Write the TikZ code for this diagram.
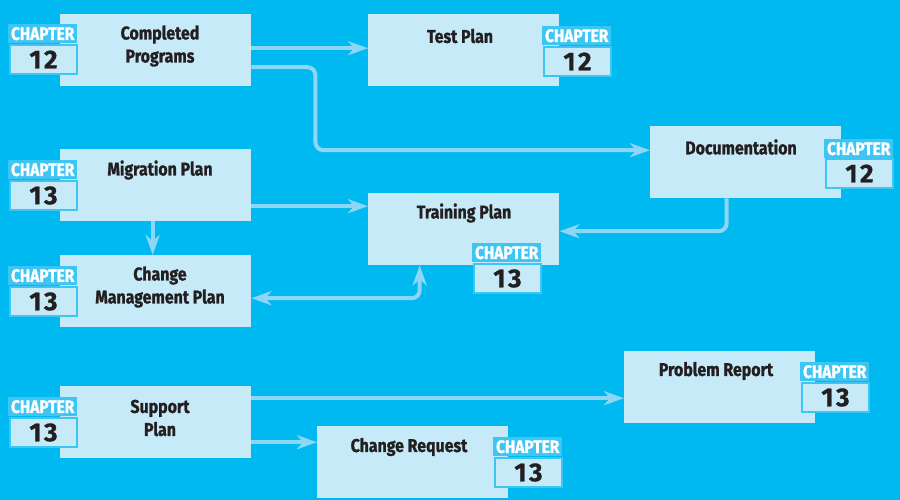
\documentclass[tikz,border=0pt]{standalone}
\usepackage{fontspec}
\setmainfont{Fira Sans}[FakeStretch=0.85]
\newfontfamily\titlefont{Fira Sans}[FakeStretch=0.86, FakeBold=1.2]
\newfontfamily\numfont{Fira Sans}[LetterSpace=10, FakeBold=0.8]
\usetikzlibrary{arrows.meta}
\definecolor{bg}{HTML}{00B9F1}
\definecolor{boxfill}{HTML}{C7EAF9}
\definecolor{hdr}{HTML}{3DC6F3}
\definecolor{arr}{HTML}{8DD6F6}
\definecolor{ink}{HTML}{231F20}
\begin{document}
\begin{tikzpicture}[x=1pt,y=-1pt,
  box/.style={fill=boxfill, anchor=north west, inner sep=0pt, minimum width=191pt, minimum height=72pt},
  ttl/.style={font=\titlefont\bfseries\fontsize{18.5}{23}\selectfont, text=ink, align=center, inner sep=0pt},
  chap/.style={fill=hdr, anchor=north west, inner sep=0pt, minimum width=69pt, minimum height=19pt, text=white, font=\titlefont\bfseries\fontsize{18}{18}\selectfont},
  num/.style={fill=boxfill, draw=hdr, line width=2pt, anchor=north west, inner sep=0pt, minimum width=67pt, minimum height=29pt, text=ink, font=\numfont\bfseries\fontsize{26}{28}\selectfont},
  arrow/.style={draw=arr, line width=4pt, -{Stealth[length=20pt,width=14pt,inset=6pt]}},
  darrow/.style={draw=arr, line width=4pt, {Stealth[length=20pt,width=14pt,inset=6pt]}-{Stealth[length=20pt,width=14pt,inset=6pt]}}
]
\useasboundingbox[fill=bg] (0,0) rectangle (900,500);

% boxes
\node[box] (cp) at (60,14) {};
\node[box] (tp) at (368,14) {};
\node[box] (doc) at (650,126) {};
\node[box] (mig) at (60,149) {};
\node[box] (train) at (368,193) {};
\node[box] (cmp) at (60,255) {};
\node[box] (sup) at (60,386) {};
\node[box] (cr) at (317,426) {};
\node[box] (pr) at (624,351) {};

% titles
\node[ttl] (cpT) at (160,46) {Completed\\Programs};
\node[ttl] (tpT) at (460,36) {Test Plan};
\node[ttl] (docT) at (741,147) {Documentation};
\node[ttl] (migT) at (160,170) {Migration Plan};
\node[ttl] (trainT) at (464,213) {Training Plan};
\node[ttl] (cmpT) at (160,287) {Change\\Management Plan};
\node[ttl] (supT) at (160,418) {Support\\Plan};
\node[ttl] (crT) at (409,447) {Change Request};
\node[ttl] (prT) at (716,371) {Problem Report};

% badges
\node[chap] (cpH) at (8,24) {CHAPTER};
\node[num] (cpN) at (9,44) {12};
\node[chap] (tpH) at (542,26) {CHAPTER};
\node[num] (tpN) at (543,46) {12};
\node[chap] (docH) at (824,139) {CHAPTER};
\node[num] (docN) at (825,158) {12};
\node[chap] (migH) at (8,160) {CHAPTER};
\node[num] (migN) at (9,180) {13};
\node[chap] (trainH) at (472,243) {CHAPTER};
\node[num] (trainN) at (473,263) {13};
\node[chap] (cmpH) at (8,266) {CHAPTER};
\node[num] (cmpN) at (9,286) {13};
\node[chap] (supH) at (8,397) {CHAPTER};
\node[num] (supN) at (9,417) {13};
\node[chap] (crH) at (493,437) {CHAPTER};
\node[num] (crN) at (494,457) {13};
\node[chap] (prH) at (800,362) {CHAPTER};
\node[num] (prN) at (801,382) {13};

% connectors
\draw[arrow] ([yshift=2pt]cp.east) -- ([yshift=2pt]cp.east -| tp.west);
\draw[arrow, rounded corners=8pt] ([yshift=-17pt]cp.east) -- ++(64,0) |- ([yshift=12pt]doc.west);
\draw[arrow, rounded corners=8pt] ([xshift=-19pt]doc.south) |- ([yshift=-2pt]train.east);
\draw[arrow] ([yshift=-21pt]mig.east) -- ([yshift=-21pt]mig.east -| train.west);
\draw[arrow] ([xshift=-3pt]mig.south) -- ([xshift=-3pt]mig.south |- cmp.north);
\draw[darrow, rounded corners=8pt] ([yshift=-7pt]cmp.east) -| ([xshift=-44pt]train.south);
\draw[arrow] ([yshift=24pt]sup.east) -- ([yshift=24pt]sup.east -| pr.west);
\draw[arrow] ([yshift=-20pt]sup.east) -- ([yshift=-20pt]sup.east -| cr.west);
\end{tikzpicture}
\end{document}
